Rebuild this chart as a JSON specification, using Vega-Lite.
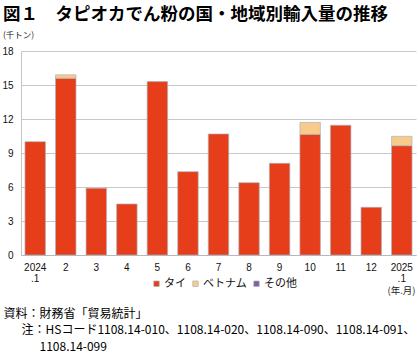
{
  "$schema": "https://vega.github.io/schema/vega-lite/v6.json",
  "width": 395,
  "height": 204,
  "autosize": "none",
  "padding": {"left": 21, "top": 51, "right": 4, "bottom": 99},
  "background": "white",
  "config": {"view": {"stroke": null}, "font": "Noto Sans CJK JP"},
  "title": {
    "text": "図１　タピオカでん粉の国・地域別輸入量の推移",
    "subtitle": "(千トン)",
    "anchor": "start",
    "frame": "group",
    "dx": -18,
    "offset": 7,
    "font": "Noto Sans CJK JP",
    "fontSize": 17.5,
    "fontWeight": "bold",
    "color": "#000000",
    "subtitleFont": "Noto Sans CJK JP",
    "subtitleFontSize": 8.5,
    "subtitleColor": "#222222",
    "subtitlePadding": 7
  },
  "data": {
    "values": [
      {"month": "2024.1", "country": "タイ", "value": 10.0},
      {"month": "2", "country": "タイ", "value": 15.6},
      {"month": "2", "country": "ベトナム", "value": 0.3},
      {"month": "3", "country": "タイ", "value": 5.9},
      {"month": "4", "country": "タイ", "value": 4.5},
      {"month": "5", "country": "タイ", "value": 15.3},
      {"month": "6", "country": "タイ", "value": 7.35},
      {"month": "7", "country": "タイ", "value": 10.68},
      {"month": "8", "country": "タイ", "value": 6.38},
      {"month": "9", "country": "タイ", "value": 8.09},
      {"month": "10", "country": "タイ", "value": 10.65},
      {"month": "10", "country": "ベトナム", "value": 1.05},
      {"month": "11", "country": "タイ", "value": 11.45},
      {"month": "12", "country": "タイ", "value": 4.21},
      {"month": "2025.1", "country": "タイ", "value": 9.65},
      {"month": "2025.1", "country": "ベトナム", "value": 0.82}
    ]
  },
  "mark": {"type": "bar", "stroke": "#aab3bb", "strokeWidth": 0.7},
  "encoding": {
    "x": {
      "field": "month",
      "type": "ordinal",
      "sort": null,
      "scale": {"paddingInner": 0.33, "paddingOuter": 0.13},
      "axis": {
        "labelExpr": "datum.value == '2024.1' ? ['2024', '.1'] : datum.value == '2025.1' ? ['2025', '.1'] : datum.value",
        "labelAngle": 0,
        "labelFont": "Liberation Sans",
        "labelFontSize": 10,
        "labelColor": "#111111",
        "labelLineHeight": 11.5,
        "labelPadding": 7,
        "ticks": false,
        "domainColor": "#b8b8b8",
        "title": "(年.月)",
        "titleFont": "Noto Sans CJK JP",
        "titleFontSize": 9.5,
        "titleFontWeight": "normal",
        "titleColor": "#222222",
        "titleX": 380,
        "titleY": 35,
        "titleAlign": "center",
        "titleBaseline": "middle"
      }
    },
    "y": {
      "field": "value",
      "type": "quantitative",
      "stack": "zero",
      "scale": {"domain": [0, 18], "nice": false},
      "axis": {
        "values": [0, 3, 6, 9, 12, 15, 18],
        "labelFont": "Liberation Sans",
        "labelFontSize": 10,
        "labelColor": "#111111",
        "labelPadding": 8,
        "ticks": false,
        "domainColor": "#c4c4c4",
        "gridColor": "#c8c8c8",
        "gridWidth": 1,
        "title": ["資料：財務省「貿易統計」", "\u200b\u3000\u2002注：HSコード1108.14-010、1108.14-020、1108.14-090、1108.14-091、", "\u200b\u3000\u3000\u30001108.14-099"],
        "titleAngle": 0,
        "titleAlign": "left",
        "titleBaseline": "top",
        "titleX": -18,
        "titleY": 257,
        "titleFont": "Noto Sans CJK JP",
        "titleFontSize": 12,
        "titleFontWeight": "normal",
        "titleColor": "#000000",
        "titleLineHeight": 16.7
      }
    },
    "color": {
      "field": "country",
      "type": "nominal",
      "sort": ["タイ", "ベトナム", "その他"],
      "scale": {"domain": ["タイ", "ベトナム", "その他"], "range": ["#e63d1a", "#f8cb8c", "#7e5fa8"]},
      "legend": {
        "orient": "none",
        "legendX": 130,
        "legendY": 227,
        "direction": "horizontal",
        "title": null,
        "symbolType": "square",
        "symbolSize": 30,
        "symbolStrokeWidth": 0.7,
        "labelFont": "Noto Sans CJK JP",
        "labelFontSize": 11,
        "labelColor": "#111111",
        "labelOffset": 2,
        "columnPadding": 4
      }
    },
    "order": {"field": "country", "sort": "ascending"}
  }
}
